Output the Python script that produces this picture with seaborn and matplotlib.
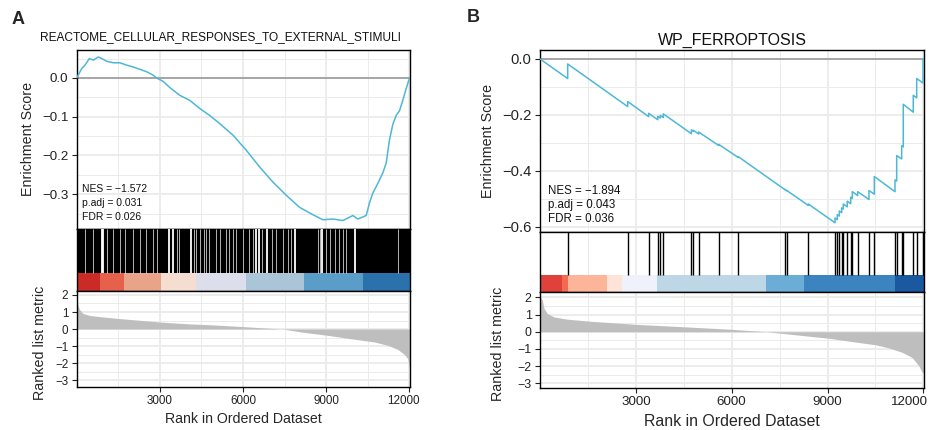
import numpy as np
import matplotlib
matplotlib.use("Agg")
import matplotlib.pyplot as plt
import matplotlib.transforms as mtransforms
import seaborn as sns
from matplotlib.ticker import MultipleLocator, FixedLocator

# --- DATA ---
N_GENES = 12020

# A: REACTOME_CELLULAR_RESPONSES_TO_EXTERNAL_STIMULI
a_title = "REACTOME_CELLULAR_RESPONSES_TO_EXTERNAL_STIMULI"
a_stats = ["NES = \u22121.572", "p.adj = 0.031", "FDR = 0.026"]
a_es_rank = [0, 180, 300, 456, 600, 780, 900, 1080, 1320, 1560, 1800, 2040, 2280,
             2520, 2760, 2880, 3120, 3360, 3720, 4080, 4440, 4800, 5160, 5640,
             6120, 6600, 7080, 7560, 8040, 8520, 8880, 9240, 9600, 9960, 10140,
             10440, 10560, 10680, 10860, 11040, 11160, 11220, 11280, 11400, 11520,
             11640, 11760, 11880, 11976, 12020]
a_es_score = [0.0, 0.024, 0.033, 0.050, 0.046, 0.054, 0.050, 0.043, 0.039, 0.039,
              0.033, 0.028, 0.022, 0.016, 0.007, 0.0, -0.009, -0.025, -0.045, -0.058,
              -0.079, -0.097, -0.118, -0.148, -0.187, -0.230, -0.269, -0.303, -0.334,
              -0.353, -0.366, -0.364, -0.368, -0.355, -0.364, -0.355, -0.322, -0.297,
              -0.272, -0.245, -0.220, -0.190, -0.160, -0.120, -0.097, -0.085, -0.058,
              -0.028, -0.006, 0.0]
# the gene set is so dense that the hit band is black; these are the ranks with no hits
a_gaps_wide = [923, 960, 3336, 3480, 4140, 6455, 6574, 6862, 7859, 8856, 10019]
a_gaps_narrow = [299, 576, 1080, 1320, 1560, 1740, 2040, 2280, 2496, 2736, 2904,
                 3624, 3696, 4224, 4320, 4464, 4584, 4680, 4776, 5040, 5184, 5400,
                 5496, 5640, 5760, 6000, 6214, 6358, 6696, 7056, 7175, 7438, 7618,
                 7740, 8698, 8759, 9000, 9144, 9299, 9454, 9598, 9720, 11578]
a_bar_edges = [0, 840, 1714, 3035, 4295, 6095, 8183, 10318, 12020]
a_bar_colors = ["#CB2B26", "#E5614B", "#E9A388", "#F6DDD2", "#DCDFEB",
                "#A9C5D7", "#5B9DC9", "#2B71AC"]
a_metric_rank = [1, 36, 97, 218, 460, 822, 1427, 2150, 3000, 3966, 5175, 6020,
                 6990, 7410, 8200, 9045, 10010, 10737, 11220, 11580, 11820, 11940, 12020]
a_metric_value = [2.0, 1.45, 1.16, 0.92, 0.80, 0.73, 0.63, 0.53, 0.41, 0.31, 0.22,
                  0.14, 0.04, 0.0, -0.20, -0.37, -0.60, -0.76, -0.96, -1.20, -1.50,
                  -1.75, -2.45]

# B: WP_FERROPTOSIS
b_title = "WP_FERROPTOSIS"
b_stats = ["NES = \u22121.894", "p.adj = 0.043", "FDR = 0.036"]
b_hits = [867, 2745, 3402, 3684, 3766, 3859, 4740, 4800, 4967, 5593, 6207, 7669,
          7741, 8398, 9234, 9306, 9368, 9443, 9493, 9618, 9725, 9775, 9944, 10298,
          10465, 11112, 11165, 11321, 11371, 11684, 11791, 11990]
b_es_before = [-0.070, -0.170, -0.206, -0.217, -0.211, -0.209, -0.267, -0.258,
               -0.268, -0.309, -0.352, -0.467, -0.472, -0.523, -0.585, -0.574,
               -0.561, -0.549, -0.536, -0.528, -0.517, -0.498, -0.488, -0.502,
               -0.483, -0.474, -0.436, -0.357, -0.314, -0.190, -0.139, -0.086]
b_es_after = [-0.018, -0.152, -0.194, -0.205, -0.202, -0.196, -0.253, -0.255,
              -0.261, -0.305, -0.349, -0.466, -0.471, -0.518, -0.568, -0.556,
              -0.543, -0.532, -0.518, -0.508, -0.494, -0.474, -0.474, -0.470,
              -0.420, -0.432, -0.345, -0.310, -0.162, -0.130, -0.070, 0.0]
b_bar_edges = [0, 679, 886, 2088, 2557, 3653, 7064, 8263, 11112, 12020]
b_bar_colors = ["#E0413B", "#F26A4F", "#FCB599", "#FDE3D8", "#EFF1FB",
                "#BDD7E6", "#6BADD6", "#3B84BF", "#1A58A0"]
b_metric_rank = [1, 73, 125, 228, 436, 851, 1578, 3000, 4486, 6012, 7082, 7809,
                 9003, 9886, 10509, 10924, 11340, 11651, 11859, 11942, 12020]
b_metric_value = [2.05, 1.84, 1.35, 1.06, 0.86, 0.73, 0.61, 0.43, 0.29, 0.14, 0.0,
                  -0.14, -0.37, -0.60, -0.76, -0.94, -1.20, -1.50, -1.98, -2.30, -2.45]

# --- LAYOUT (pixels of a 930 x 430 picture) ---
W, H = 930, 430
LINE = "#4DB8D6"
GRID = "#EBEBEB"


def box(l, t, r, b):
    return [l / W, 1 - b / H, (r - l) / W, (b - t) / H]


def fx(x):
    return x / W


def fy(y):
    return 1 - y / H


sns.set_theme(style="white")
plt.rcParams["font.family"] = ["Liberation Sans", "DejaVu Sans"]
plt.rcParams["axes.unicode_minus"] = True

fig = plt.figure(figsize=(W / 100, H / 100), dpi=100)


def style_axes(ax, xgrid=True):
    for s in ax.spines.values():
        s.set_color("black")
        s.set_linewidth(1.0)
    ax.set_xlim(0, N_GENES)
    ax.xaxis.set_major_locator(FixedLocator([3000, 6000, 9000, 12000]))
    ax.xaxis.set_minor_locator(FixedLocator([1500, 4500, 7500, 10500]))
    if xgrid:
        ax.grid(which="major", color=GRID, lw=1.3)
        ax.grid(which="minor", color=GRID, lw=0.7)
    ax.set_axisbelow(True)
    ax.tick_params(which="minor", length=0)
    ax.set_xlabel("")
    ax.set_ylabel("")


def gsea_panel(left, right, top_t, mid_t, bar_t, mid_b, bot_b,
               es_x, es_y, es_lim, es_ticks, metric_x, metric_y, metric_lim,
               edges, colors, title, title_x, title_y, title_size, stats,
               stats_x, stats_y, stats_size, sizes, draw_hits):
    ax1 = fig.add_axes(box(left, top_t, right, mid_t))
    ax2 = fig.add_axes(box(left, mid_t, right, mid_b))
    ax3 = fig.add_axes(box(left, mid_b, right, bot_b))

    # running enrichment score
    style_axes(ax1)
    ax1.axhline(0, color="#A0A0A0", lw=1.3, zorder=1)
    sns.lineplot(x=es_x, y=es_y, ax=ax1, color=LINE, lw=1.1,
                 estimator=None, sort=False, zorder=3)
    ax1.set_ylim(*es_lim)
    ax1.yaxis.set_major_locator(FixedLocator(es_ticks))
    ax1.yaxis.set_minor_locator(MultipleLocator((es_ticks[1] - es_ticks[0]) / 2))
    ax1.set_yticklabels([f"{t:.1f}".replace("-", "\u2212") for t in es_ticks])
    ax1.tick_params(axis="x", bottom=False, labelbottom=False)
    ax1.tick_params(axis="y", left=True, length=3.5, width=0.8, pad=2.5,
                    labelsize=sizes["es_tick"], colors="#222222")
    ax1.set_xlabel("")

    # hits + colour bar
    style_axes(ax2)
    ax2.set_ylim(0, 1)
    frac = (mid_b - bar_t) / (mid_b - mid_t)
    ax2.broken_barh([(edges[i], edges[i + 1] - edges[i]) for i in range(len(colors))],
                    (0, frac), facecolors=colors, edgecolor="none", zorder=2)
    draw_hits(ax2, frac)
    ax2.tick_params(bottom=False, left=False, labelbottom=False, labelleft=False)

    # ranked list metric
    style_axes(ax3)
    ax3.fill_between(metric_x, 0, metric_y, color="#BEBEBE", lw=0, zorder=2)
    ax3.set_ylim(*metric_lim)
    ax3.yaxis.set_major_locator(FixedLocator([-3, -2, -1, 0, 1, 2]))
    ax3.yaxis.set_minor_locator(FixedLocator([-2.5, -1.5, -0.5, 0.5, 1.5]))
    ax3.tick_params(axis="y", left=True, length=3.5, width=0.8, pad=2.5,
                    labelsize=sizes["m_tick"], colors="#222222")
    ax3.tick_params(axis="x", bottom=True, length=3.5, width=0.8, pad=2.5,
                    labelsize=sizes["x_tick"], colors="#222222")
    ax3.set_xticklabels(["3000", "6000", "9000", "12000"])
    last = ax3.get_xticklabels()[-1]
    last.set_transform(last.get_transform() + mtransforms.ScaledTranslation(
        -sizes["last_shift"] / 100, 0, fig.dpi_scale_trans))

    # texts
    fig.text(fx(title_x), fy(title_y), title, ha="center", va="center",
             fontsize=title_size, color="#111111")
    for s, yy in zip(stats, stats_y):
        fig.text(fx(stats_x), fy(yy), s, ha="left", va="center",
                 fontsize=stats_size, color="#111111")
    fig.text(fx(sizes["ylab_x"]), fy((top_t + mid_t) / 2), "Enrichment Score",
             rotation=90, ha="center", va="center", fontsize=sizes["ylab"])
    fig.text(fx(sizes["ylab2_x"]), fy((mid_b + bot_b) / 2 + 4), "Ranked list metric",
             rotation=90, ha="center", va="center", fontsize=sizes["ylab"])
    fig.text(fx((left + right) / 2), fy(sizes["xlab_y"]), "Rank in Ordered Dataset",
             ha="center", va="center", fontsize=sizes["xlab"])


def hits_a(ax, frac):
    ax.axhspan(frac, 1, color="black", lw=0, zorder=2)
    ax.vlines(a_gaps_narrow, frac, 1, color="white", lw=0.7, alpha=0.7, zorder=3)
    ax.vlines(a_gaps_wide, frac, 1, color="white", lw=1.3, zorder=3)


def hits_b(ax, frac):
    ax.vlines(b_hits, frac, 1, color="black", lw=1.0, zorder=3)


gsea_panel(76.7, 410, 50, 228.7, 272.7, 291, 387,
           a_es_rank, a_es_score, (-0.389, 0.072), [-0.3, -0.2, -0.1, 0.0],
           a_metric_rank, a_metric_value, (-3.41, 2.235),
           a_bar_edges, a_bar_colors, a_title, 220, 37.5, 8.6, a_stats,
           81.7, [189, 203, 217.5], 7.5,
           dict(es_tick=9.6, m_tick=8.4, x_tick=8.4, ylab=10.3, ylab_x=28,
                ylab2_x=40, xlab=10.2, xlab_y=419, last_shift=6),
           hits_a)

b_es_x = [0] + [h for h in b_hits for _ in range(2)] + [N_GENES]
b_es_y = [0.0] + [v for pair in zip(b_es_before, b_es_after) for v in pair] + [0.0]

gsea_panel(540, 924, 50, 232, 275, 292, 388,
           b_es_x, b_es_y, (-0.618, 0.032), [-0.6, -0.4, -0.2, 0.0],
           b_metric_rank, b_metric_value, (-3.27, 2.31),
           b_bar_edges, b_bar_colors, b_title, 732, 40, 11.5, b_stats,
           548.3, [191, 205, 219], 8.3,
           dict(es_tick=10.6, m_tick=8.9, x_tick=9.6, ylab=10.3, ylab_x=488,
                ylab2_x=498, xlab=11.4, xlab_y=421, last_shift=14),
           hits_b)

fig.text(fx(18), fy(19), "A", ha="center", va="center", fontsize=13, fontweight="bold")
fig.text(fx(473), fy(18), "B", ha="center", va="center", fontsize=13, fontweight="bold")

fig.savefig("out.png", dpi=100)
